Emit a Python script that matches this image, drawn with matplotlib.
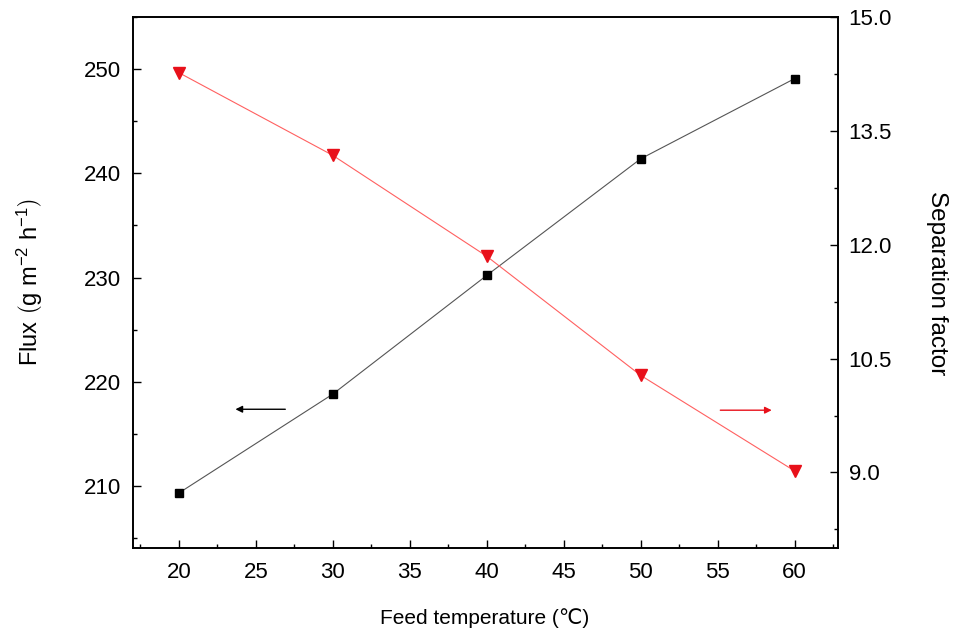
import matplotlib
matplotlib.use("Agg")
import matplotlib.pyplot as plt
from matplotlib.ticker import MultipleLocator, FormatStrFormatter

plt.rcParams['font.family'] = ['Liberation Sans', 'DejaVu Sans']
plt.rcParams['mathtext.fontset'] = 'custom'
plt.rcParams['mathtext.rm'] = 'Liberation Sans'
plt.rcParams['mathtext.it'] = 'Liberation Sans:italic'

temperature = [20, 30, 40, 50, 60]
flux = [209.3, 218.8, 230.2, 241.4, 249.1]
separation = [14.27, 13.18, 11.85, 10.28, 9.02]

fig = plt.figure(figsize=(9.54, 6.39), dpi=100)
ax = fig.add_axes([0.139, 0.142, 0.739, 0.831])
ax2 = ax.twinx()

ax.plot(temperature, flux, color='#555555', lw=0.8, marker='s', ms=6,
        mfc='black', mec='black', zorder=3)
ax2.plot(temperature, separation, color='#ff6060', lw=0.8, marker='v', ms=8,
         mfc='#e8101a', mec='#e8101a', zorder=3)

ax.set_xlim(17, 62.8)
ax.set_ylim(204, 255)
ax2.set_ylim(8.0, 15.0)

ax.xaxis.set_major_locator(MultipleLocator(5))
ax.xaxis.set_minor_locator(MultipleLocator(2.5))
ax.yaxis.set_major_locator(MultipleLocator(10))
ax.yaxis.set_minor_locator(MultipleLocator(5))
ax2.yaxis.set_major_locator(MultipleLocator(1.5))
ax2.yaxis.set_minor_locator(MultipleLocator(0.75))
ax2.yaxis.set_major_formatter(FormatStrFormatter('%.1f'))

for a in (ax, ax2):
    a.tick_params(which='major', direction='in', length=6, width=1, labelsize=16, pad=8)
    a.tick_params(which='minor', direction='in', length=3, width=1)
    for s in a.spines.values():
        s.set_linewidth(1.2)
ax.tick_params(axis='x', top=False, which='both', pad=10)
ax.tick_params(axis='y', right=False, which='both')

ax.set_xlabel('Feed temperature (\u2103)', fontsize=15, labelpad=18)
ax.set_ylabel(r'Flux $\left(\mathregular{g\ m^{-2}\ h^{-1}}\right)$', fontsize=17, labelpad=28)
ax2.set_ylabel('Separation factor', fontsize=17.5, rotation=270, labelpad=40)

ax.annotate('', xy=(23.5, 217.35), xytext=(27.1, 217.35),
            arrowprops=dict(arrowstyle='-|>', color='black', lw=1.0, mutation_scale=10))
ax2.annotate('', xy=(58.7, 9.82), xytext=(55.0, 9.82),
             arrowprops=dict(arrowstyle='-|>', color='#e8101a', lw=1.0, mutation_scale=10))

fig.savefig('out.png', dpi=100)
